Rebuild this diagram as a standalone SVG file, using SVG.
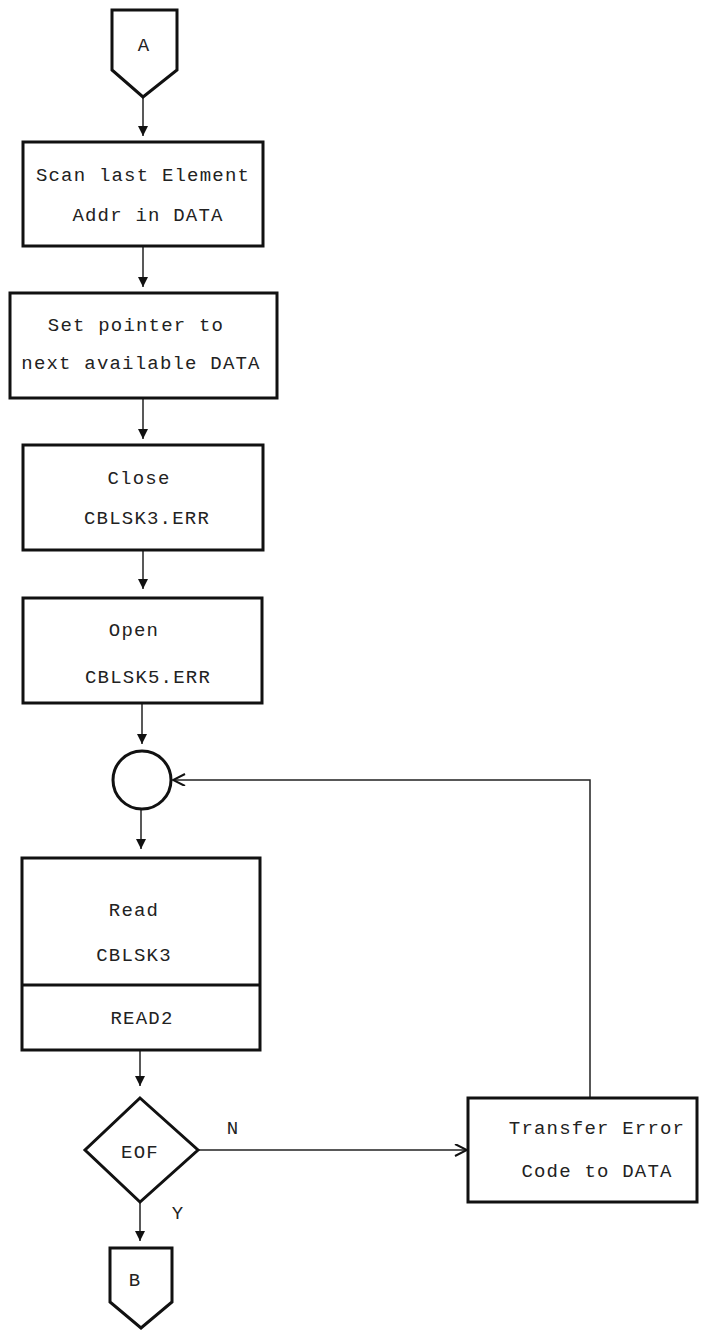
<svg xmlns="http://www.w3.org/2000/svg" width="703" height="1332" viewBox="0 0 703 1332">
<style>
.box{fill:#fff;stroke:#111;stroke-width:3}
.ln{fill:none;stroke:#222;stroke-width:1.5}
.t{font-family:"Liberation Mono","DejaVu Sans Mono",monospace;font-size:19px;letter-spacing:1.2px;fill:#222;text-anchor:middle}
</style>
<defs>
<marker id="ah" markerUnits="userSpaceOnUse" markerWidth="12" markerHeight="12" refX="10" refY="5" orient="auto">
<path d="M0,0 L10,5 L0,10 Z" fill="#111"/>
</marker>
<marker id="oh" markerUnits="userSpaceOnUse" markerWidth="16" markerHeight="14" refX="14" refY="6" orient="auto">
<path d="M2,0 L14,6 L2,12" fill="none" stroke="#111" stroke-width="2"/>
</marker>
</defs>
<rect width="703" height="1332" fill="#fff"/>
<g id="connectors">
<line class="ln" x1="143" y1="97" x2="143" y2="136" marker-end="url(#ah)"/>
<line class="ln" x1="143" y1="246" x2="143" y2="287" marker-end="url(#ah)"/>
<line class="ln" x1="143" y1="398" x2="143" y2="439" marker-end="url(#ah)"/>
<line class="ln" x1="143" y1="550" x2="143" y2="589" marker-end="url(#ah)"/>
<line class="ln" x1="142" y1="703" x2="142" y2="744" marker-end="url(#ah)"/>
<line class="ln" x1="141" y1="808" x2="141" y2="849" marker-end="url(#ah)"/>
<line class="ln" x1="140" y1="1050" x2="140" y2="1086" marker-end="url(#ah)"/>
<line class="ln" x1="140" y1="1202" x2="140" y2="1241" marker-end="url(#ah)"/>
<line class="ln" x1="198" y1="1150" x2="467" y2="1150" marker-end="url(#oh)"/>
<polyline class="ln" points="590,1097 590,780 173,780" marker-end="url(#oh)"/>
</g>
<g id="connA">
<polygon class="box" points="112,10 177,10 177,70 143,97 112,70"/>
<text class="t" x="144" y="51">A</text>
</g>
<g id="scan">
<rect class="box" x="23" y="142" width="240" height="104"/>
<text class="t" x="143" y="181">Scan last Element</text>
<text class="t" x="148" y="221">Addr in DATA</text>
</g>
<g id="setptr">
<rect class="box" x="10" y="293" width="267" height="105"/>
<text class="t" x="136" y="331">Set pointer to</text>
<text class="t" x="141" y="369">next available DATA</text>
</g>
<g id="close">
<rect class="box" x="23" y="445" width="240" height="105"/>
<text class="t" x="139" y="484">Close</text>
<text class="t" x="147" y="524">CBLSK3.ERR</text>
</g>
<g id="open">
<rect class="box" x="23" y="598" width="239" height="105"/>
<text class="t" x="134" y="636">Open</text>
<text class="t" x="148" y="683">CBLSK5.ERR</text>
</g>
<g id="junction">
<circle class="box" cx="142" cy="780" r="29" stroke-width="2.5"/>
</g>
<g id="read">
<rect class="box" x="22" y="858" width="238" height="192"/>
<line class="box" x1="22" y1="985" x2="260" y2="985"/>
<text class="t" x="134" y="916">Read</text>
<text class="t" x="134" y="961">CBLSK3</text>
<text class="t" x="142" y="1024">READ2</text>
</g>
<g id="eof">
<polygon class="box" points="140,1098 198,1150 140,1202 85,1150" stroke-width="2.5"/>
<text class="t" x="140" y="1158">EOF</text>
<text class="t" x="233" y="1134">N</text>
<text class="t" x="178" y="1219">Y</text>
</g>
<g id="transfer">
<rect class="box" x="468" y="1098" width="229" height="104"/>
<text class="t" x="597" y="1134">Transfer Error</text>
<text class="t" x="597" y="1177">Code to DATA</text>
</g>
<g id="connB">
<polygon class="box" points="110,1248 172,1248 172,1302 141,1328 110,1302"/>
<text class="t" x="135" y="1286">B</text>
</g>
</svg>
